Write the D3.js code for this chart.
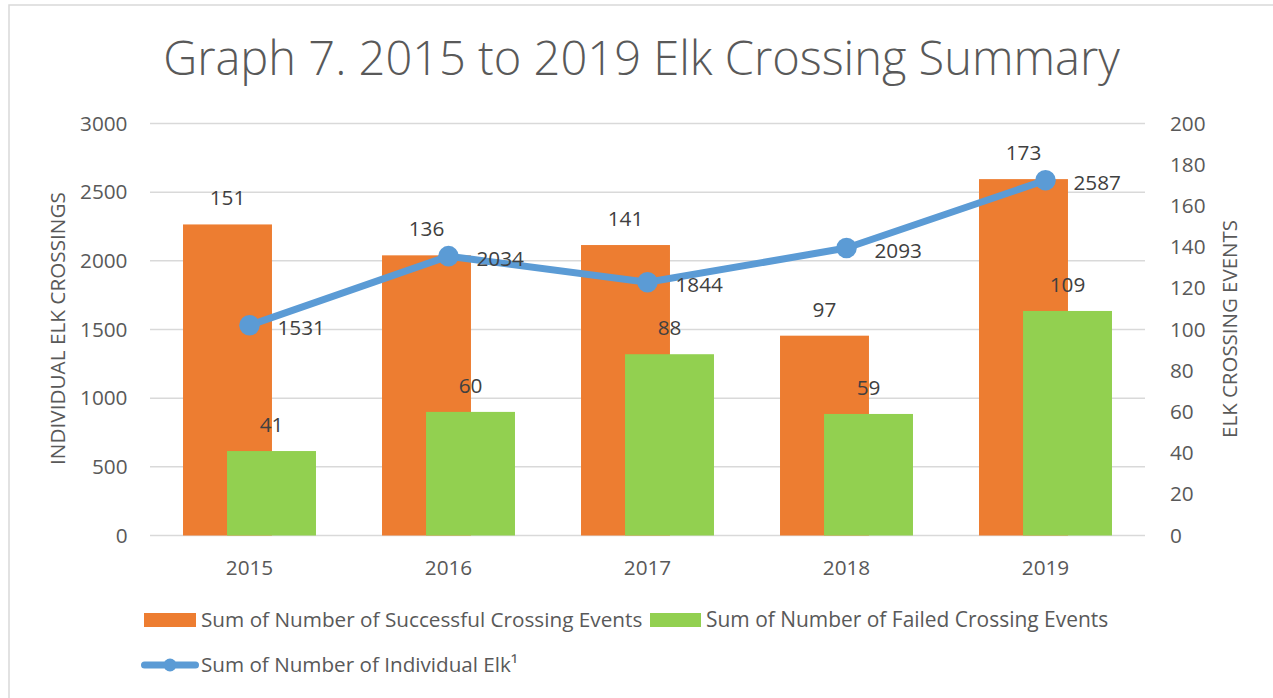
<!DOCTYPE html>
<html>
<head>
<meta charset="utf-8">
<script src="https://cdn.jsdelivr.net/npm/d3@7/dist/d3.min.js"></script>
<style>
  html, body { margin: 0; padding: 0; background: #fff; }
  svg { display: block; }
  text { font-family: "Open Sans", "Noto Sans", sans-serif; }
</style>
</head>
<body>
<svg id="chart" width="1273" height="698"></svg>
<script>
const categories = ["2015", "2016", "2017", "2018", "2019"];
const successfulEvents = [151, 136, 141, 97, 173];
const failedEvents = [41, 60, 88, 59, 109];
const individualElk = [1531, 2034, 1844, 2093, 2587];
const leftTicks = [0, 500, 1000, 1500, 2000, 2500, 3000];
const rightTicks = [0, 20, 40, 60, 80, 100, 120, 140, 160, 180, 200];
const seriesNames = [
  "Sum of Number of Successful Crossing Events",
  "Sum of Number of Failed Crossing Events",
  "Sum of Number of Individual Elk\u00B9"
];
const titleText = "Graph 7. 2015 to 2019 Elk Crossing Summary";
const leftAxisTitle = "INDIVIDUAL ELK CROSSINGS";
const rightAxisTitle = "ELK CROSSING EVENTS";

const ORANGE = "#ED7D31", GREEN = "#92D050", BLUE = "#5B9BD5";
const TXT = "#595959", LBL = "#404040", GRID = "#d9d9d9";

const svg = d3.select("#chart");

// chart frame
svg.append("rect").attr("x", 9).attr("y", 5).attr("width", 1280).attr("height", 710)
  .attr("fill", "#fff").attr("stroke", GRID).attr("stroke-width", 1.5);

function fit(sel, w) {
  const len = sel.node().getComputedTextLength();
  const fs = parseFloat(sel.attr("font-size"));
  sel.attr("font-size", fs * w / len);
  return sel;
}

// base small-font size determined from tick label width
const tmp = svg.append("text").attr("font-size", 20).text("3000");
const smallFs = 20 * 47.5 / tmp.node().getComputedTextLength();
tmp.remove();

const plot = { left: 150, right: 1145, top: 123.5, bottom: 535.5 };
const x = d3.scaleBand().domain(categories).range([plot.left, plot.right]).padding(0);
const yL = d3.scaleLinear().domain([0, 3000]).range([plot.bottom, plot.top]);
const yR = d3.scaleLinear().domain([0, 200]).range([plot.bottom, plot.top]);

// title
const title = svg.append("text").attr("x", 641.5).attr("y", 75).attr("text-anchor", "middle")
  .attr("font-size", 50).attr("font-weight", 300).attr("fill", TXT).text(titleText);
fit(title, 957);

// gridlines
svg.append("g").selectAll("line").data(leftTicks).join("line")
  .attr("x1", plot.left).attr("x2", plot.right)
  .attr("y1", d => yL(d)).attr("y2", d => yL(d))
  .attr("stroke", GRID).attr("stroke-width", 1.5);

// left axis
const gL = svg.append("g").attr("transform", `translate(${plot.left},0)`)
  .call(d3.axisLeft(yL).tickValues(leftTicks).tickFormat(d3.format("d")).tickSize(0).tickPadding(22.5));
gL.select(".domain").remove();
gL.selectAll("text").attr("font-size", smallFs).attr("fill", TXT).attr("font-family", null);

// right axis
const gR = svg.append("g").attr("transform", `translate(${plot.right},0)`)
  .call(d3.axisRight(yR).tickValues(rightTicks).tickFormat(d3.format("d")).tickSize(0).tickPadding(25));
gR.select(".domain").remove();
gR.selectAll("text").attr("font-size", smallFs).attr("fill", TXT).attr("font-family", null);

// x axis
const gX = svg.append("g").attr("transform", `translate(0,${plot.bottom})`)
  .call(d3.axisBottom(x).tickSize(0));
gX.select(".domain").remove();
gX.selectAll("text").attr("font-size", smallFs).attr("fill", TXT).attr("font-family", null)
  .attr("y", 39.5).attr("dy", 0);

// axis titles
const lt = svg.append("text").attr("transform", "translate(57,328.5) rotate(-90)")
  .attr("text-anchor", "middle").attr("dominant-baseline", "central")
  .attr("font-size", 20).attr("fill", TXT).text(leftAxisTitle);
fit(lt, 273);
const rt = svg.append("text").attr("transform", "translate(1228.5,329) rotate(-90)")
  .attr("text-anchor", "middle").attr("dominant-baseline", "central")
  .attr("font-size", 20).attr("fill", TXT).text(rightAxisTitle);
fit(rt, 218);

// bars
const bw = x.bandwidth();
const barW = bw * 0.447;
const off = bw * 0.1106;
const barSeries = [
  { values: successfulEvents, color: ORANGE, shift: -off },
  { values: failedEvents, color: GREEN, shift: off }
];
barSeries.forEach(s => {
  const data = categories.map((c, i) => ({ c, v: s.values[i] }));
  const cx = d => x(d.c) + bw / 2 + s.shift;
  svg.append("g").selectAll("rect").data(data).join("rect")
    .attr("x", d => cx(d) - barW / 2).attr("width", barW)
    .attr("y", d => yR(d.v)).attr("height", d => yR(0) - yR(d.v))
    .attr("fill", s.color);
  svg.append("g").selectAll("text").data(data).join("text")
    .attr("x", d => cx(d)).attr("y", d => yR(d.v) - 19)
    .attr("text-anchor", "middle").attr("font-size", smallFs).attr("fill", LBL)
    .text(d => d.v);
});

// line
const lineData = categories.map((c, i) => ({ c, v: individualElk[i] }));
const lx = d => x(d.c) + bw / 2;
svg.append("path").datum(lineData)
  .attr("d", d3.line().x(lx).y(d => yL(d.v)))
  .attr("fill", "none").attr("stroke", BLUE).attr("stroke-width", 7)
  .attr("stroke-linejoin", "round").attr("stroke-linecap", "round");
svg.append("g").selectAll("circle").data(lineData).join("circle")
  .attr("cx", lx).attr("cy", d => yL(d.v)).attr("r", 10.3).attr("fill", BLUE);
svg.append("g").selectAll("text").data(lineData).join("text")
  .attr("x", d => lx(d) + 28).attr("y", d => yL(d.v) + 2)
  .attr("dominant-baseline", "central").attr("font-size", smallFs).attr("fill", LBL)
  .text(d => d.v);

// legend
const lg = svg.append("g");
lg.append("rect").attr("x", 144).attr("y", 613).attr("width", 52).attr("height", 14).attr("fill", ORANGE);
fit(lg.append("text").attr("x", 201).attr("y", 627).attr("font-size", smallFs).attr("fill", TXT).text(seriesNames[0]), 441);
lg.append("rect").attr("x", 650).attr("y", 613).attr("width", 51).attr("height", 14).attr("fill", GREEN);
fit(lg.append("text").attr("x", 706).attr("y", 627).attr("font-size", smallFs).attr("fill", TXT).text(seriesNames[1]), 402);
lg.append("line").attr("x1", 144.5).attr("x2", 195.5).attr("y1", 665).attr("y2", 665)
  .attr("stroke", BLUE).attr("stroke-width", 7).attr("stroke-linecap", "round");
lg.append("circle").attr("cx", 170).attr("cy", 665).attr("r", 6.5).attr("fill", BLUE);
fit(lg.append("text").attr("x", 201).attr("y", 672).attr("font-size", smallFs).attr("fill", TXT).text(seriesNames[2]), 317);
</script>
</body>
</html>
